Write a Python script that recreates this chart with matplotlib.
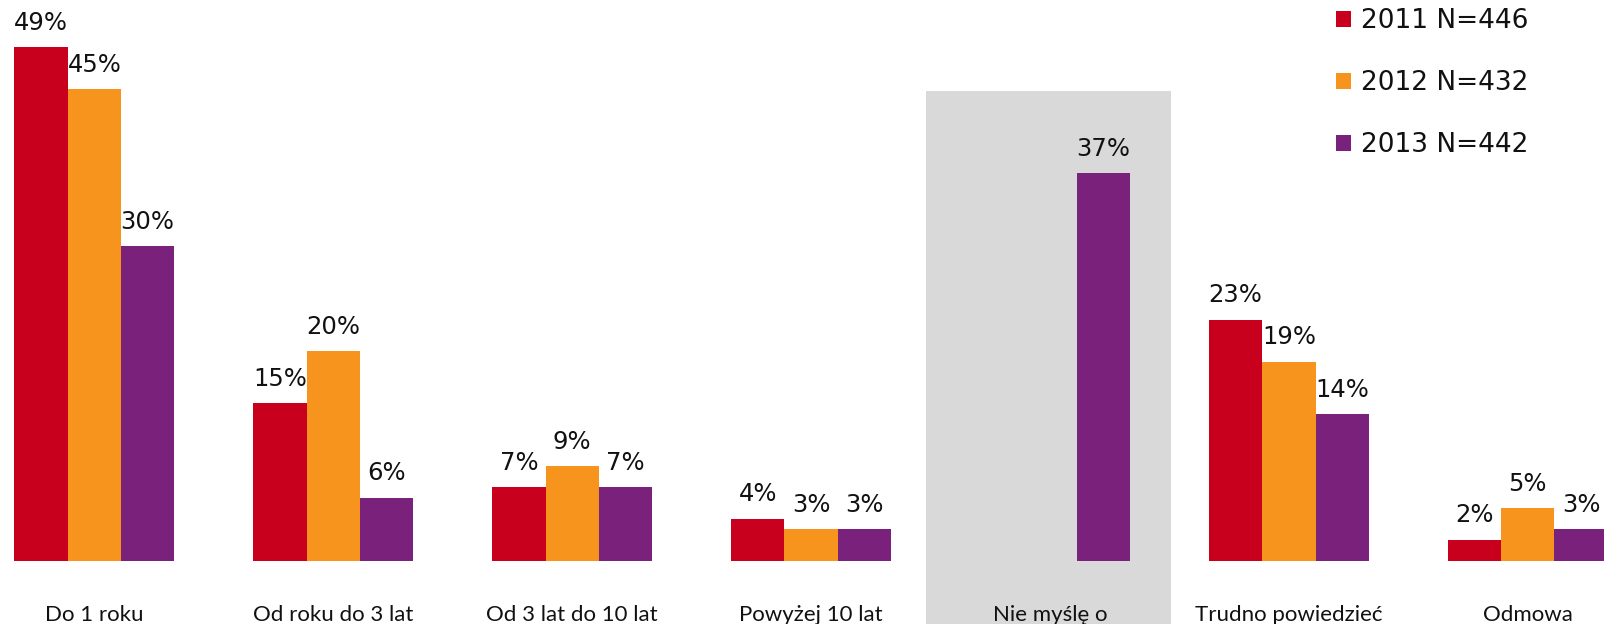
import numpy as np
import matplotlib.pyplot as plt
from matplotlib.patches import Rectangle

categories = ['Do 1 roku', 'Od roku do 3 lat', 'Od 3 lat do 10 lat', 'Powyżej 10 lat',
              'Nie myślę o', 'Trudno powiedzieć', 'Odmowa']
series = ['2011 N=446', '2012 N=432', '2013 N=442']
v2011 = [49, 15, 7, 4, np.nan, 23, 2]
v2012 = [45, 20, 9, 3, np.nan, 19, 5]
v2013 = [30, 6, 7, 3, 37, 14, 3]
colors = ['#C8001E', '#F7941E', '#7A217C']

fig = plt.figure(figsize=(16.04, 6.24), dpi=100)
ax = fig.add_axes([0, 0, 1, 1])
ax.set_xlim(-0.395, 6.319)
ax.set_ylim(-6.05, 53.5)
ax.axis('off')

# szare tlo dla "Nie mysle o"
ax.add_patch(Rectangle((3.481, -10), 1.026, 54.8, facecolor='#D9D9D9', edgecolor='none', zorder=0))

x = np.arange(len(categories))
w = 0.223
for i, (vals, name) in enumerate(zip([v2011, v2012, v2013], series)):
    pos = x + (i - 1) * w
    ax.bar(pos, vals, w, color=colors[i], label=name, zorder=2)
    for p, v in zip(pos, vals):
        if np.isnan(v):
            continue
        ax.annotate('%d%%' % v, (p, v), xytext=(0, 12.5), textcoords='offset points',
                    ha='center', va='baseline', fontsize=17.5, family='DejaVu Sans', color='#111111')

for xi, c in zip(x, categories):
    ax.text(xi, -5.76, c, ha='center', va='baseline', fontsize=16, family='Lato', color='#111111')

leg = ax.legend(loc='upper left', bbox_to_anchor=(1336 / 1604, 1 - 8 / 624), frameon=False,
                fontsize=19, handlelength=0.55, handleheight=0.55, handletextpad=0.4,
                labelspacing=1.37, borderpad=0, borderaxespad=0)
for t in leg.get_texts():
    t.set_color('#111111')

fig.savefig('out.png', dpi=100)
